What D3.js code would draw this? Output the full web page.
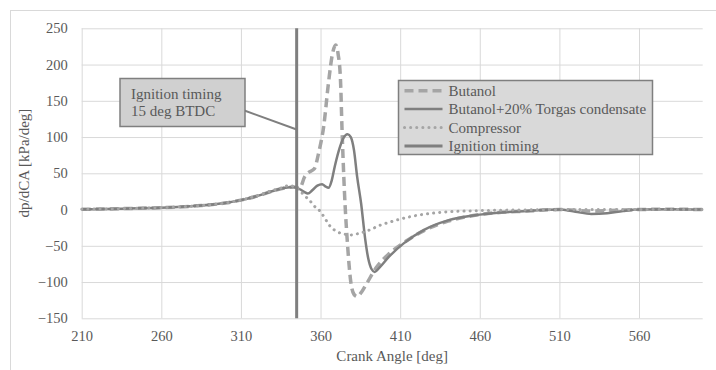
<!DOCTYPE html>
<html>
<head>
<meta charset="utf-8">
<script src="https://cdn.jsdelivr.net/npm/d3@7"></script>
<style>
  body { margin: 0; background: #fff; }
  svg text { font-family: "Liberation Serif", serif !important; fill: #595959; }
</style>
</head>
<body>
<div id="my_dataviz"></div>
<script>
// data: [crank angle, dp/dCA]
const butanol = [[210,0.5],[225,0.8],[240,1.5],[255,2.3],[270,3.5],[285,5.5],[300,9],[310,13],[320,18.5],[330,25.5],[338,30],[343,31],
  [347,30],[350,45],[353,52],[356,56],[359,80],[362,115],[365,175],[367.5,215],[369.5,227],[371,215],[372.5,180],[373.5,110],[375,25],
  [377,-50],[379,-100],[381,-117],[383,-120],[386,-113],[389,-102],[395,-80],[403,-61],[412,-46],[425,-29],[440,-16],[460,-7],
  [490,-2],[510,0],[530,-2],[560,0],[580,0.5],[600,0]];
const torgas = [[210,0.5],[225,0.8],[240,1.5],[255,2.3],[270,3.5],[285,5.5],[300,9],[310,13],[320,18.5],[330,25.5],[338,30],[343,31],
  [347,28],[350,24],[352,22],[355,27],[358,33],[361,35],[363,32],[365,30],[367,40],[369,60],[372,85],[374,97],[377,104],[379,100],
  [381,82],[383,45],[385.5,8],[388,-40],[390,-68],[392,-82],[394,-86],[397,-80],[403,-65],[412,-47],[425,-28],[440,-15],[460,-7],
  [490,-2],[510,0],[520,-3],[530,-6],[540,-5],[550,-2],[560,0],[580,0.5],[600,0]];
const compressor = [[210,0.5],[225,0.8],[240,1.5],[255,2.3],[270,3.5],[285,5.5],[300,9],[310,13],[320,19],[330,26.5],[335,29.5],[340,33],[343,32],
  [347,26],[350,19],[353,13],[356,5],[360,-3],[363,-13],[366,-23],[370,-30],[375,-34],[379,-35],[384,-33],[391,-28],[397,-22],
  [404,-17],[416,-10],[435,-4],[460,-1.5],[490,-0.5],[520,0],[560,0],[600,0]];
const ignition = [[345,-150],[345,250]];

const xTicks = [210, 260, 310, 360, 410, 460, 510, 560];
const yTicks = [-150, -100, -50, 0, 50, 100, 150, 200, 250];
const legendNames = ["Butanol", "Butanol+20% Torgas condensate", "Compressor", "Ignition timing"];
const calloutLines = ["Ignition timing", "15 deg BTDC"];

const FONT = "'Liberation Serif', serif";

// set the dimensions and margins of the graph
const W = 716, H = 370;
const margin = { top: 28.3, right: 13.3, bottom: 51.7, left: 81.7 },
    width = W - margin.left - margin.right,
    height = H - margin.top - margin.bottom;

const root = d3.select("#my_dataviz")
    .append("svg")
    .attr("width", W)
    .attr("height", H)
    .style("font-family", FONT);

// chart area border
root.append("rect")
    .attr("x", 10.5).attr("y", 10.5)
    .attr("width", 720).attr("height", 400)
    .attr("fill", "none").attr("stroke", "#d9d9d9");

const svg = root.append("g")
    .attr("transform", `translate(${margin.left}, ${margin.top})`);

const x = d3.scaleLinear().domain([210, 600]).range([0, width]);
const y = d3.scaleLinear().domain([-150, 250]).range([height, 0]);

// grid
svg.append("g")
    .call(d3.axisLeft(y).tickValues(yTicks).tickSize(-width).tickFormat(""))
    .call(g => g.select(".domain").remove())
    .selectAll("line").attr("stroke", "#d9d9d9");
svg.append("g")
    .attr("transform", `translate(0, ${height})`)
    .call(d3.axisBottom(x).tickValues(xTicks).tickSize(height).tickFormat(""))
    .call(g => g.select(".domain").remove())
    .selectAll("line").attr("stroke", "#d9d9d9").attr("transform", `translate(0, ${-height})`);

// tick labels
svg.append("g")
    .call(d3.axisLeft(y).tickValues(yTicks).tickSize(0).tickPadding(14))
    .attr("font-family", FONT)
    .call(g => g.select(".domain").remove())
    .selectAll("text")
    .style("font-family", FONT)
    .style("font-size", "14.5px");
svg.append("g")
    .attr("transform", `translate(0, ${height})`)
    .call(d3.axisBottom(x).tickValues(xTicks).tickSize(0).tickPadding(12))
    .attr("font-family", FONT)
    .call(g => g.select(".domain").remove())
    .selectAll("text")
    .style("font-family", FONT)
    .style("font-size", "14.5px");

// axis titles
svg.append("text")
    .attr("text-anchor", "middle")
    .attr("x", width / 2)
    .attr("y", height + 43)
    .style("font-family", FONT)
    .style("font-size", "15px")
    .text("Crank Angle [deg]");
svg.append("text")
    .attr("text-anchor", "middle")
    .attr("transform", `translate(${29 - margin.left}, ${163 - margin.top}) rotate(-90)`)
    .style("font-family", FONT)
    .style("font-size", "15px")
    .text("dp/dCA [kPa/deg]");

// series
const line = d3.line()
    .x(d => x(d[0]))
    .y(d => y(d[1]))
    .curve(d3.curveMonotoneX);

const styles = [
  { data: butanol, color: "#a5a5a5", w: 3.5, dash: "9,5", cap: "butt" },
  { data: torgas, color: "#7f7f7f", w: 2.5, dash: null, cap: "butt" },
  { data: compressor, color: "#a5a5a5", w: 3, dash: "0.1,6", cap: "round" },
  { data: ignition, color: "#7f7f7f", w: 3, dash: null, cap: "butt" }
];

svg.selectAll("path.series")
    .data(styles)
    .join("path")
    .attr("class", "series")
    .attr("fill", "none")
    .attr("stroke", d => d.color)
    .attr("stroke-width", d => d.w)
    .attr("stroke-dasharray", d => d.dash)
    .attr("stroke-linecap", d => d.cap)
    .attr("stroke-linejoin", "round")
    .attr("d", d => line(d.data));

// legend
const lg = root.append("g").attr("transform", "translate(398.5, 80.5)");
lg.append("rect")
    .attr("width", 254).attr("height", 74)
    .attr("fill", "#d9d9d9").attr("stroke", "#7f7f7f").attr("stroke-width", 1.5);
const items = lg.selectAll("g.item")
    .data(legendNames)
    .join("g")
    .attr("transform", (d, i) => `translate(0, ${10.2 + i * 18.4})`);
items.append("line")
    .attr("x1", 6).attr("x2", 44)
    .attr("stroke", (d, i) => styles[i].color)
    .attr("stroke-width", (d, i) => styles[i].w)
    .attr("stroke-dasharray", (d, i) => styles[i].dash)
    .attr("stroke-linecap", (d, i) => styles[i].cap);
items.append("text")
    .attr("x", 50)
    .attr("y", 5)
    .style("font-family", FONT)
    .style("font-size", "15px")
    .text(d => d);

// callout for ignition timing
const cx = x(345) + margin.left;
root.append("line")
    .attr("x1", 243).attr("y1", 110)
    .attr("x2", cx).attr("y2", 129.5)
    .attr("stroke", "#7f7f7f").attr("stroke-width", 2);
const co = root.append("g").attr("transform", "translate(120, 78.5)");
co.append("rect")
    .attr("width", 125).attr("height", 48)
    .attr("fill", "#d0d0d0").attr("stroke", "#7f7f7f").attr("stroke-width", 1.5);
co.selectAll("text")
    .data(calloutLines)
    .join("text")
    .attr("x", 11)
    .attr("y", (d, i) => 20 + i * 17)
    .style("font-family", FONT)
    .style("font-size", "15px")
    .text(d => d);
</script>
</body>
</html>
